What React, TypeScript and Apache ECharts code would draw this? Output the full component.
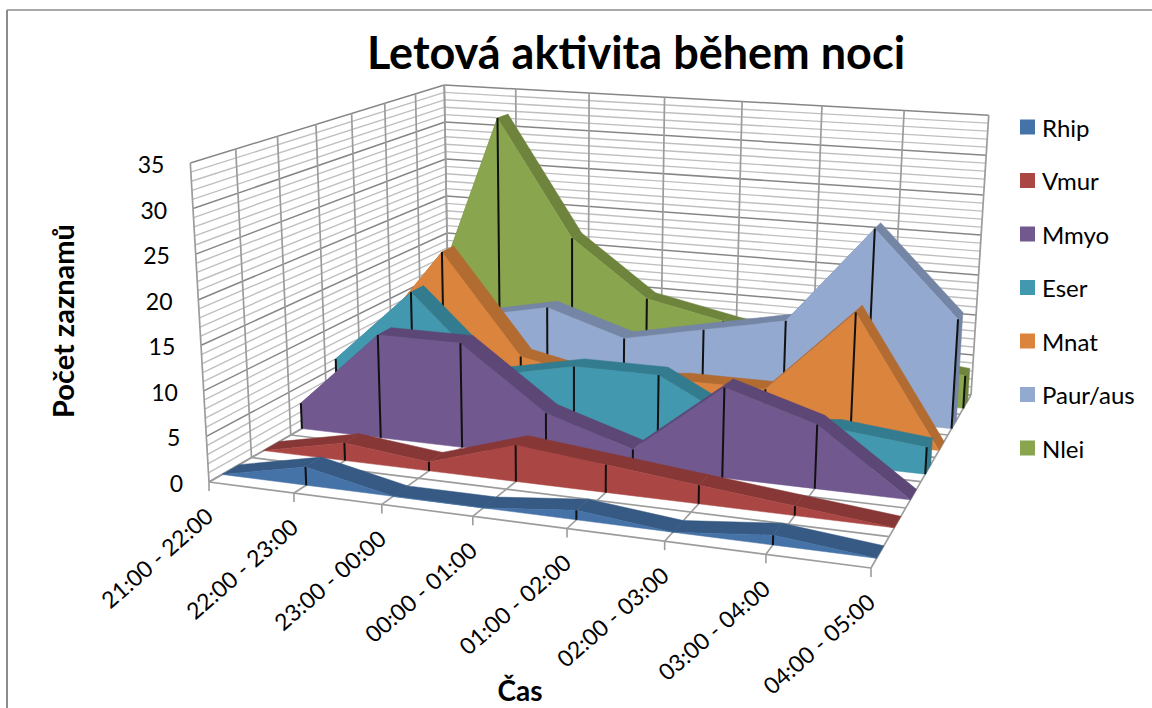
import React, { useEffect, useRef } from "react";
import * as echarts from "echarts";

const categories = ["21:00 - 22:00","22:00 - 23:00","23:00 - 00:00","00:00 - 01:00","01:00 - 02:00","02:00 - 03:00","03:00 - 04:00","04:00 - 05:00"];
const valueTicks = [0,5,10,15,20,25,30,35];
const Rhip = [0,2,0,0,1,0,1,0];
const Vmur = [0,2,1,4,3,2,1,0];
const Mmyo = [3,12,12,5,2,10,7,0];
const Eser = [6,15,6,8,8,3,4,3];
const Mnat = [6,18,6,4,5,5,15,0];
const Paur = [4,8,10,7,9,11,23,13];
const Nlei = [6,32,17,10,8,6,5,4];
const names = ["Rhip","Vmur","Mmyo","Eser","Mnat","Paur/aus","Nlei"];
const rows = [Rhip,Vmur,Mmyo,Eser,Mnat,Paur,Nlei];
const faceColors = ["#4572A7","#AA4643","#71588F","#4198AF","#DB843D","#93A9CF","#89A54E"];
const topColors = ["#375A84","#873735","#5C4776","#337B8E","#B26B31","#7485A5","#6E843D"];
const FONT = "Lato";
const VMAX = 35;
const GAP = 0.3;

type V3 = [number, number, number];
// Screen corners of the box that the camera sees.
const F0: V3 = [209,482,1], F1: V3 = [871,568,1], F2: V3 = [971,395,1], F3: V3 = [449,344,1];
const T0: V3 = [191,163,1], T1: V3 = [443.5,85,1], T2: V3 = [989,113,1];

function buildCamera() {
  const dx1 = F1[0]-F2[0], dy1 = F1[1]-F2[1], dx2 = F3[0]-F2[0], dy2 = F3[1]-F2[1];
  const sx = F0[0]-F1[0]+F2[0]-F3[0], sy = F0[1]-F1[1]+F2[1]-F3[1];
  const den = dx1*dy2-dx2*dy1;
  const g = (sx*dy2-dx2*sy)/den, h = (dx1*sy-sx*dy1)/den;
  const cx: V3 = [F1[0]-F0[0]+g*F1[0], F1[1]-F0[1]+g*F1[1], g];
  const cz: V3 = [F3[0]-F0[0]+h*F3[0], F3[1]-F0[1]+h*F3[1], h];
  const co: V3 = [F0[0],F0[1],1];
  const sum = (...vs: V3[]) => [0,1,2].map((k) => vs.reduce((s,v) => s+v[k],0));
  const bases = [sum(co),sum(co,cz),sum(co,cz,cx)];
  const tops = [T0,T1,T2];
  // sideways lean of the verticals, fitted over the three top corners
  let a11=0,a12=0,a22=0,b1=0,b2=0;
  bases.forEach((b,i) => {
    const t = tops[i][0], r = t*b[2]-b[0];
    a11 += 1; a12 += -t; a22 += t*t; b1 += r; b2 += -t*r;
  });
  const d = a11*a22-a12*a12;
  const fx = { c:(b1*a22-b2*a12)/d, w:(a11*b2-a12*b1)/d };
  // height of the value axis shrinks with distance
  const H0 = F0[1]-T0[1];
  const power = Math.log(H0/(F3[1]-T1[1]))/Math.log(1+h);
  return { cx, cz, co, fx, H0, power };
}
const cam = buildCamera();
function project(cat: number, value: number, depth: number): [number, number] {
  const x = cat/(categories.length-1), y = value/VMAX;
  const base = [0,1,2].map((k) => cam.cx[k]*x+cam.cz[k]*depth+cam.co[k]);
  return [
    (base[0]+cam.fx.c*y)/(base[2]+cam.fx.w*y),
    base[1]/base[2]-y*cam.H0/Math.pow(base[2],cam.power),
  ];
}
const line = (a: number[], b: number[], stroke: string, lineWidth: number, z2 = 0) => ({
  type: "line", z2, shape: { x1:a[0], y1:a[1], x2:b[0], y2:b[1] }, style: { stroke, lineWidth },
});
const MAJOR = "#868686", MINOR = "#BFBFBF", EDGE = "#9C9C9C";

function renderBox() {
  const children: any[] = [];
  const n = categories.length, s = names.length;
  const wallV = (v: number, col: string, w: number) => {
    children.push(line(project(0,v,0),project(0,v,1),col,w));
    children.push(line(project(0,v,1),project(n-1,v,1),col,w));
  };
  for (let v = 0; v <= VMAX; v++) if (v % 5 !== 0) wallV(v,MINOR,1.4);
  for (const v of valueTicks) wallV(v,MAJOR,1.5);
  for (let i = 0; i < n; i++) {
    children.push(line(project(i,VMAX,1),project(i,0,1),EDGE,1.7));
    children.push(line(project(i,0,0),project(i,0,1),EDGE,1.6));
    const t = project(i,0,0);
    children.push(line(t,[t[0],t[1]+9],EDGE,1.6));
    children.push({ type:"text", x:t[0], y:t[1]+30, rotation:41*Math.PI/180,
      style:{ text:categories[i], align:"right", verticalAlign:"middle", fill:"#000", font:`23px ${FONT}` } });
  }
  for (let k = 0; k <= s; k++) {
    children.push(line(project(0,VMAX,k/s),project(0,0,k/s),EDGE,1.7));
    children.push(line(project(0,0,k/s),project(n-1,0,k/s),EDGE,1.6));
  }
  for (const v of valueTicks) {
    const p = project(0,v,0);
    children.push({ type:"text", x:p[0]-26, y:p[1]+1,
      style:{ text:String(v), align:"right", verticalAlign:"middle", fill:"#000", font:`23px ${FONT}` } });
  }
  return { type:"group", children };
}

function makeRender(idx: number) {
  const front = (idx+GAP)/names.length, back = (idx+1-GAP)/names.length;
  return (_p: any, api: any) => {
    const i = api.value(0), v = api.value(1);
    const row = rows[idx];
    const children: any[] = [];
    if (i < row.length-1) {
      const w = row[i+1];
      children.push({ type:"polygon", z2:0, shape:{ points:[project(i,v,front),project(i+1,w,front),project(i+1,w,back),project(i,v,back)] },
        style:{ fill:topColors[idx], stroke:topColors[idx], lineWidth:0.5 } });
      children.push({ type:"polygon", z2:1, shape:{ points:[project(i,v,front),project(i+1,w,front),project(i+1,0,front),project(i,0,front)] },
        style:{ fill:faceColors[idx], stroke:faceColors[idx], lineWidth:0.5 } });
    } else if (v > 0) {
      children.push({ type:"polygon", z2:0, shape:{ points:[project(i,v,front),project(i,v,back),project(i,0,back),project(i,0,front)] },
        style:{ fill:topColors[idx], stroke:topColors[idx], lineWidth:0.5 } });
    }
    if (v > 0) children.push(line(project(i,v,front),project(i,0,front),"#111111",2,2));
    return { type:"group", children };
  };
}

export default function App() {
  const ref = useRef<HTMLDivElement>(null);
  useEffect(() => {
    const chart = echarts.init(ref.current!, null, { renderer:"svg" });
    chart.setOption({
      animation:false,
      backgroundColor:"#FFFFFF",
      title:{ text:"Letová aktivita během noci", left:636, top:29, textAlign:"center", padding:0,
        textStyle:{ fontFamily:FONT, fontWeight:"bold", fontSize:45, color:"#000" } },
      legend:{ orient:"vertical", left:1020, top:115, padding:0, itemWidth:15, itemHeight:15, itemGap:29.5, data:names, selectedMode:false,
        icon:"rect", textStyle:{ fontFamily:FONT, fontSize:24, lineHeight:20, color:"#000", padding:[0,0,0,2] } },
      graphic:[
        { type:"line", shape:{ x1:7, y1:10, x2:1152, y2:10 }, style:{ stroke:"#8C8C8C", lineWidth:1.5 } },
        { type:"line", shape:{ x1:7, y1:10, x2:7, y2:708 }, style:{ stroke:"#8C8C8C", lineWidth:2 } },
        { type:"text", x:62, y:321, rotation:Math.PI/2, style:{ text:"Počet zaznamů", align:"center", verticalAlign:"middle", fill:"#000", font:`bold 29px ${FONT}` } },
        { type:"text", x:520, y:690, style:{ text:"Čas", align:"center", verticalAlign:"middle", fill:"#000", font:`bold 28px ${FONT}` } },
      ],
      series:[
        { type:"custom", name:"box", coordinateSystem:"none", silent:true, z:1, data:[[0]], renderItem:renderBox },
        ...names.map((name,idx) => ({
          type:"custom", name, coordinateSystem:"none", silent:true, z:10-idx,
          itemStyle:{ color:faceColors[idx] },
          data:rows[idx].map((v,i) => [i,v]),
          dimensions:["cat","val"],
          renderItem:makeRender(idx),
        })),
      ],
    });
    return () => chart.dispose();
  }, []);
  return <div ref={ref} style={{ position:"fixed", left:0, top:0, width:1152, height:708 }} />;
}
